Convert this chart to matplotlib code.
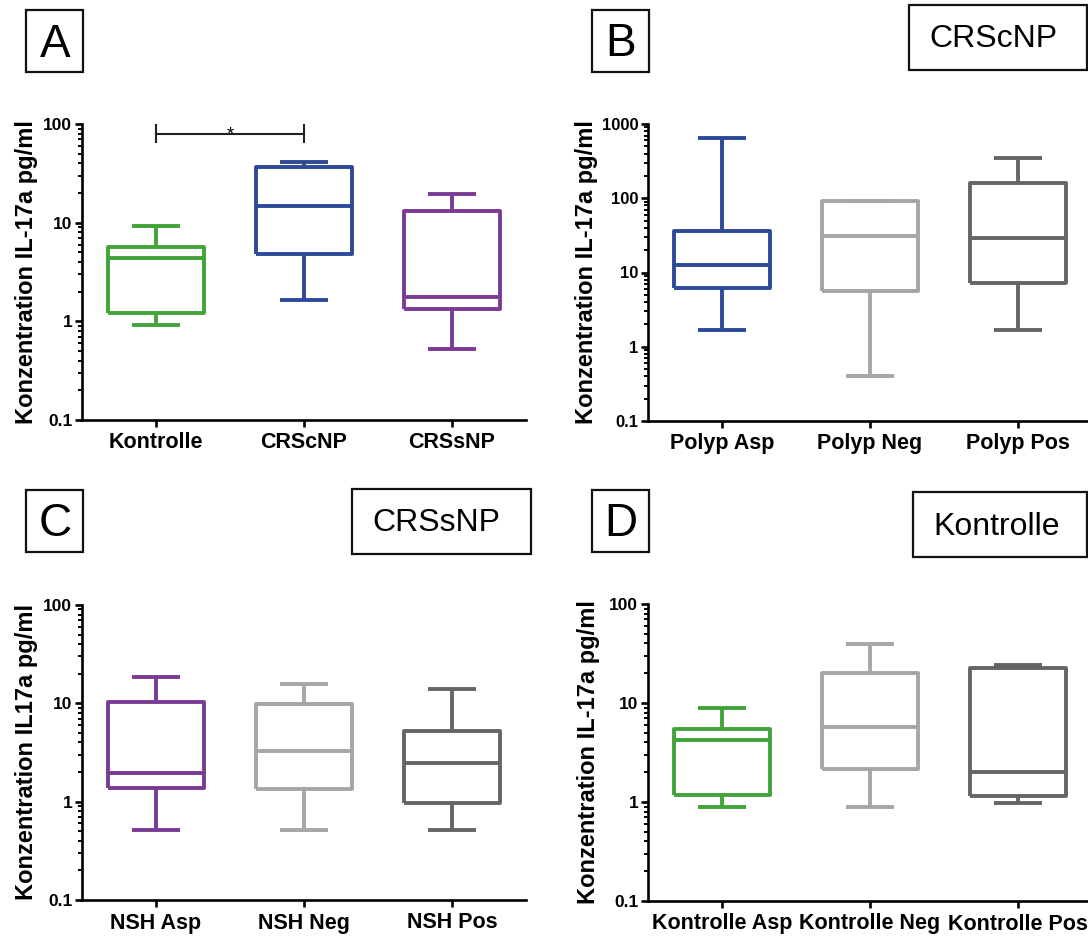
import matplotlib
matplotlib.use('Agg')
import matplotlib.pyplot as plt
from matplotlib.patches import Rectangle
from matplotlib.ticker import LogLocator, FuncFormatter, NullFormatter

plt.rcParams['font.family'] = ['Liberation Sans', 'DejaVu Sans']

W, H = 1088, 936

GREEN = '#41a33a'
BLUE = '#2d4a99'
PURPLE = '#7a3b95'
LGREY = '#a6a6a6'
DGREY = '#656565'

# Panel A
labels_a = ['Kontrolle', 'CRScNP', 'CRSsNP']
lo_a = [0.92, 1.66, 0.53]
q1_a = [1.22, 4.85, 1.32]
med_a = [4.38, 14.8, 1.77]
q3_a = [5.62, 36.5, 13.1]
hi_a = [9.25, 41.0, 19.3]

# Panel B (CRScNP)
labels_b = ['Polyp Asp', 'Polyp Neg', 'Polyp Pos']
lo_b = [1.70, 0.40, 1.70]
q1_b = [6.1, 5.66, 7.26]
med_b = [12.8, 31.2, 29.6]
q3_b = [36.5, 91.6, 162]
hi_b = [641, 91.6, 344]

# Panel C (CRSsNP)
labels_c = ['NSH Asp', 'NSH Neg', 'NSH Pos']
lo_c = [0.515, 0.515, 0.515]
q1_c = [1.37, 1.35, 0.977]
med_c = [1.94, 3.30, 2.45]
q3_c = [10.2, 9.85, 5.27]
hi_c = [18.7, 15.7, 14.1]

# Panel D (Kontrolle)
labels_d = ['Kontrolle Asp', 'Kontrolle Neg', 'Kontrolle Pos']
lo_d = [0.89, 0.89, 0.97]
q1_d = [1.17, 2.15, 1.15]
med_d = [4.25, 5.66, 1.99]
q3_d = [5.45, 20.2, 22.4]
hi_d = [9.0, 39.4, 24.4]


def px_axes(fig, left, top, right, bottom):
    return fig.add_axes([left / W, 1 - bottom / H, (right - left) / W, (bottom - top) / H])


def panel(ax, labels, lo, q1, med, q3, hi, colors, ytop):
    stats = []
    for i in range(len(labels)):
        stats.append({'label': labels[i], 'whislo': lo[i], 'q1': q1[i], 'med': med[i],
                      'q3': q3[i], 'whishi': hi[i], 'fliers': []})
    res = ax.bxp(stats, positions=[1, 2, 3], widths=0.655, capwidths=0.33,
                 showfliers=False, manage_ticks=False)
    for i, c in enumerate(colors):
        for art in [res['boxes'][i], res['medians'][i],
                    res['whiskers'][2 * i], res['whiskers'][2 * i + 1],
                    res['caps'][2 * i], res['caps'][2 * i + 1]]:
            art.set_color(c)
            art.set_linewidth(2.8)
            art.set_solid_joinstyle('round')
            art.set_solid_capstyle('butt')
    ax.set_yscale('log')
    ax.set_ylim(0.1, ytop)
    ax.set_xlim(0.5, 3.5)
    ax.set_xticks([1, 2, 3])
    ax.set_xticklabels(labels, fontsize=15.5, fontweight='bold')
    ax.yaxis.set_major_locator(LogLocator(base=10))
    ax.yaxis.set_minor_locator(LogLocator(base=10, subs=range(2, 10)))
    ax.yaxis.set_major_formatter(FuncFormatter(lambda v, p: f'{v:g}'))
    ax.yaxis.set_minor_formatter(NullFormatter())
    for lab in ax.get_yticklabels():
        lab.set_fontweight('bold')
        lab.set_fontsize(12.5)
    ax.spines['top'].set_visible(False)
    ax.spines['right'].set_visible(False)
    ax.spines['left'].set_linewidth(1.9)
    ax.spines['bottom'].set_linewidth(1.9)
    ax.tick_params(axis='y', which='major', direction='out', length=5, width=1.9, pad=2)
    ax.tick_params(axis='y', which='minor', direction='out', length=3, width=1.4)
    ax.tick_params(axis='x', which='major', direction='out', length=5, width=1.9, pad=4)
    ax.set_facecolor('none')


def label_box(fig, x0, y0, x1, y1, text, tx, base, size):
    fig.add_artist(Rectangle((x0 / W, 1 - y1 / H), (x1 - x0) / W, (y1 - y0) / H,
                             transform=fig.transFigure, facecolor='white',
                             edgecolor='#111111', linewidth=1.6))
    fig.text(tx / W, 1 - base / H, text, ha='center', va='baseline', fontsize=size)


fig = plt.figure(figsize=(W / 100, H / 100), dpi=100)

ax_a = px_axes(fig, 82, 124, 526, 420)
panel(ax_a, labels_a, lo_a, q1_a, med_a, q3_a, hi_a, [GREEN, BLUE, PURPLE], 100)
ax_b = px_axes(fig, 648, 124, 1092, 421)
panel(ax_b, labels_b, lo_b, q1_b, med_b, q3_b, hi_b, [BLUE, LGREY, DGREY], 1000)
ax_c = px_axes(fig, 82, 605, 526, 900)
panel(ax_c, labels_c, lo_c, q1_c, med_c, q3_c, hi_c, [PURPLE, LGREY, DGREY], 100)
ax_d = px_axes(fig, 648, 604, 1092, 901)
panel(ax_d, labels_d, lo_d, q1_d, med_d, q3_d, hi_d, [GREEN, LGREY, DGREY], 100)

# B has a wider tick label; keep it clear of the axis title
for lab in ax_b.get_yticklabels():
    lab.set_fontsize(12)

# significance bracket Kontrolle vs CRScNP
ax_a.plot([1, 2], [80, 80], color='#222222', lw=1.5, clip_on=False)
ax_a.vlines([1, 2], 64, 100, color='#222222', lw=1.5, clip_on=False)
ax_a.annotate('*', xy=(1.5, 80), xytext=(0, -4), textcoords='offset points',
              ha='center', va='baseline', fontsize=13)

# y labels
fig.text(27 / W, 1 - 272 / H, 'Konzentration IL-17a pg/ml', rotation=90,
         ha='center', va='center', fontsize=17, fontweight='bold')
fig.text(586 / W, 1 - 272 / H, 'Konzentration IL-17a pg/ml', rotation=90,
         ha='center', va='center', fontsize=17, fontweight='bold')
fig.text(27 / W, 1 - 752 / H, 'Konzentration IL17a pg/ml', rotation=90,
         ha='center', va='center', fontsize=17, fontweight='bold')
fig.text(589 / W, 1 - 752 / H, 'Konzentration IL-17a pg/ml', rotation=90,
         ha='center', va='center', fontsize=17, fontweight='bold')

# panel letters and group boxes
label_box(fig, 26, 10, 83, 72, 'A', 55, 57, 33)
label_box(fig, 592, 10, 649, 72, 'B', 621, 56, 33)
label_box(fig, 909, 5, 1087, 70, 'CRScNP', 993, 47, 23)
label_box(fig, 26, 490, 83, 552, 'C', 55, 536, 33)
label_box(fig, 352, 489, 531, 554, 'CRSsNP', 436, 531, 23)
label_box(fig, 592, 490, 649, 552, 'D', 621, 536, 33)
label_box(fig, 913, 492, 1087, 557, 'Kontrolle', 997, 535, 23)

fig.savefig('out.png', dpi=100)
